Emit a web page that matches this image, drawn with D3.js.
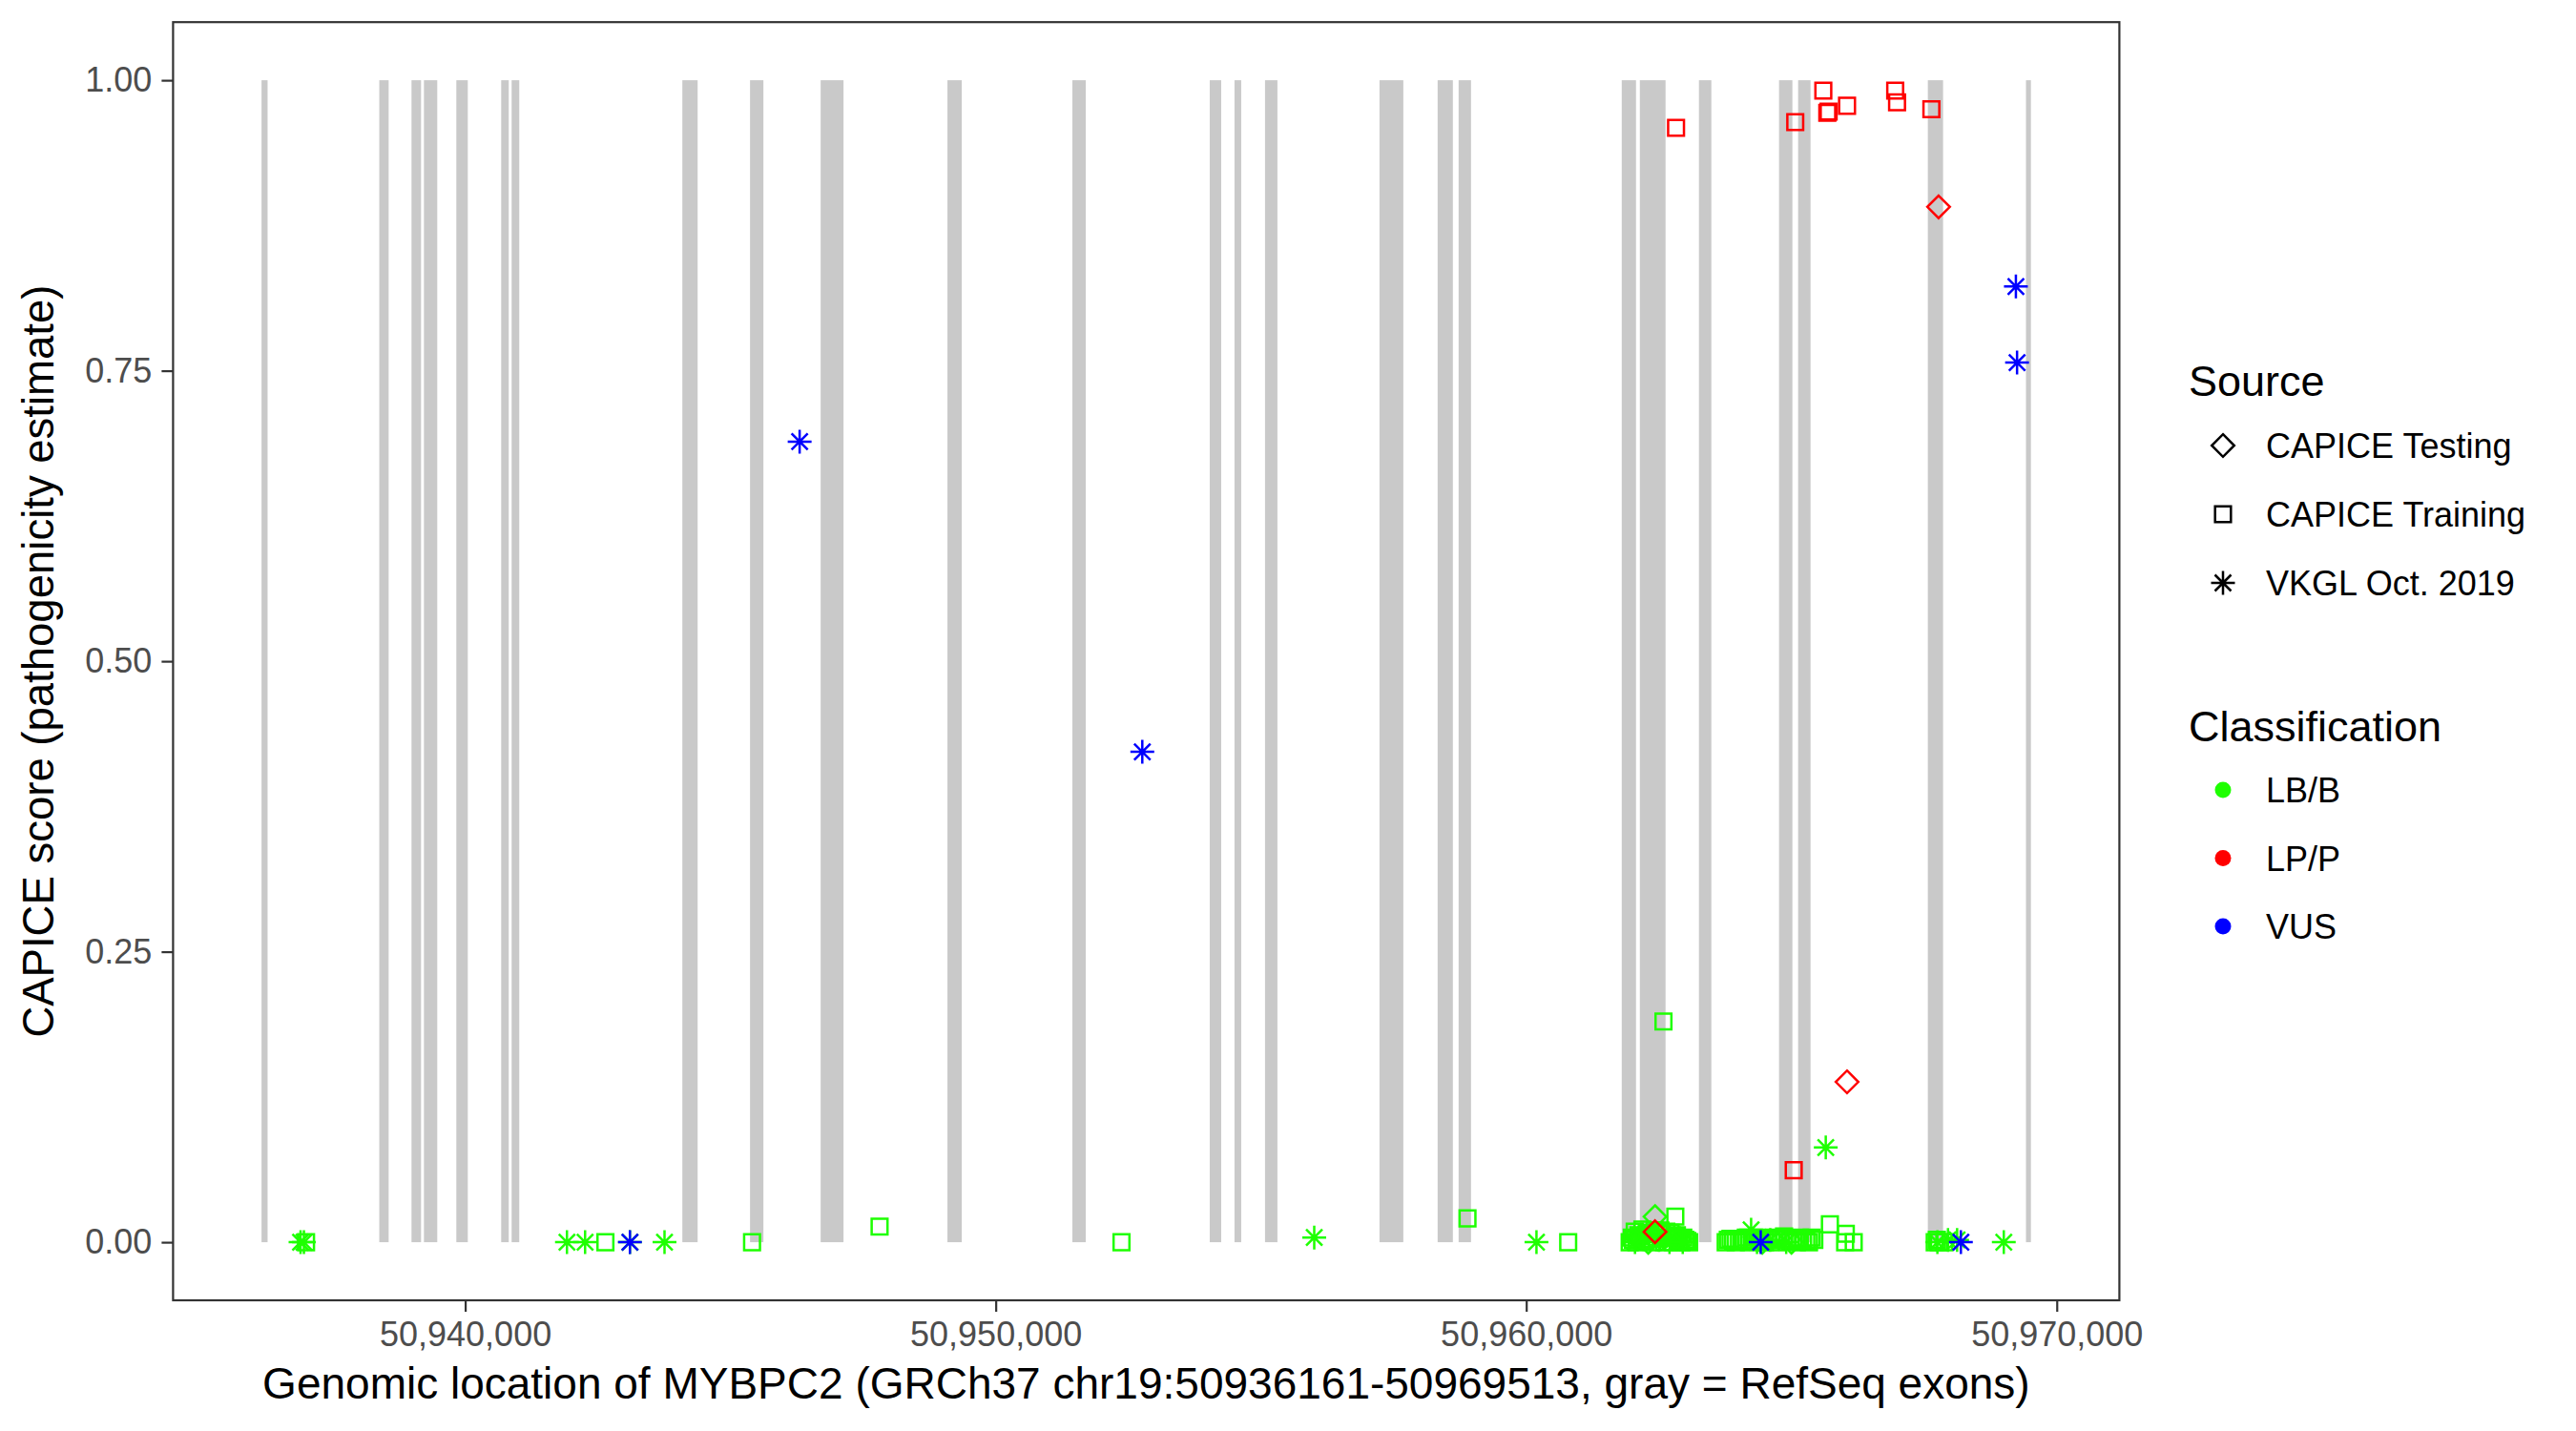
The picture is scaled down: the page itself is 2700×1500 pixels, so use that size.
<!DOCTYPE html>
<html lang="en">
<head>
  <meta charset="UTF-8">
  <title>MYBPC2 CAPICE scores</title>
  <script src="https://d3js.org/d3.v7.min.js"></script>
  <style>
    body {
      margin: 0;
      background: #fff;
    }
    svg {
      display: block;
      font-family: "Liberation Sans", Arial, sans-serif;
    }
    .tick text {
      fill: #4d4d4d;
      font-size: 36px;
      font-family: "Liberation Sans", Arial, sans-serif;
    }
    .tick line {
      stroke: #333;
      stroke-width: 2.2px;
    }
  </style>
</head>
<body>
  <svg width="2700" height="1500"></svg>

  <script>
    // Gene region and RefSeq exons (GRCh37 chr19)
    const geneStart = 50936161, geneEnd = 50969513;
    const exonStarts = [50936161, 50938380, 50938988, 50939222, 50939833, 50940678, 50940875,
      50944093, 50945369, 50946700, 50949090, 50951445, 50954034, 50954501, 50955076,
      50957234, 50958330, 50958725, 50961800, 50962141, 50963255, 50964765, 50965125,
      50967570, 50969420];
    const exonEnds = [50936275, 50938557, 50939168, 50939473, 50940049, 50940821, 50941019,
      50944381, 50945621, 50947131, 50949360, 50951697, 50954250, 50954627, 50955310,
      50957683, 50958617, 50958959, 50962069, 50962626, 50963489, 50965017, 50965359,
      50967857, 50969513];

    // variants: [position, CAPICE score]
    const trainingLBB = [
      [50937000, 0], [50942643, 0], [50945407, 0], [50947811, 0.0134], [50952371, 0],
      [50958893, 0.0205], [50960791, 0], [50962587, 0.19], [50962810, 0.022],
      [50961950, 0], [50961990, 0.004], [50962010, 0.002], [50962045, 0.009], [50962080, 0],
      [50962115, 0.006], [50962150, 0.005], [50962190, 0.011], [50962230, 0.001],
      [50962270, 0.007], [50962310, 0.008], [50962345, 0.003], [50962380, 0],
      [50962420, 0.01], [50962460, 0.003], [50962495, 0.007], [50962530, 0.01],
      [50962565, 0.004], [50962600, 0], [50962640, 0.009], [50962680, 0.004],
      [50962720, 0.008], [50962760, 0], [50962800, 0.005], [50962840, 0.006],
      [50962880, 0.002], [50962920, 0], [50962960, 0.004], [50963000, 0.002],
      [50963035, 0.001], [50963070, 0],
      [50963760, 0], [50963800, 0.002], [50963850, 0.003], [50963900, 0.001], [50963950, 0],
      [50964010, 0.002], [50964080, 0.001], [50964140, 0.004], [50964200, 0],
      [50964270, 0.002], [50964350, 0.004], [50964420, 0.001], [50964500, 0],
      [50964560, 0.003], [50964620, 0.002], [50964680, 0.004], [50964740, 0],
      [50964800, 0.002], [50964860, 0.005], [50964920, 0.003], [50964980, 0.001],
      [50965040, 0.002], [50965100, 0], [50965160, 0.004], [50965220, 0.003],
      [50965280, 0.001], [50965330, 0], [50965380, 0.004], [50965430, 0.002],
      [50965724, 0.0154], [50966024, 0.0073], [50966011, 0], [50966173, 0],
      [50967700, 0], [50967740, 0.002], [50967780, 0], [50967880, 0]
    ];
    const trainingLPP = [
      [50962824, 0.959], [50965071, 0.964], [50965600, 0.991], [50965675, 0.972],
      [50965700, 0.973], [50966047, 0.978], [50966955, 0.991], [50966990, 0.981],
      [50967637, 0.975], [50965042, 0.062]
    ];
    const testingLBB = [
      [50962428, 0.022], [50962100, 0.003], [50962300, 0], [50962650, 0.006],
      [50962900, 0.003], [50964450, 0], [50965000, 0]
    ];
    const testingLPP = [[50967773, 0.891], [50966047, 0.138], [50962428, 0.009]];
    const vkglLBB = [
      [50936896, 0], [50936960, 0], [50941918, 0], [50942260, 0], [50943105, 0], [50943757, 0],
      [50956004, 0.004], [50960193, 0], [50965646, 0.0815], [50964239, 0.0107],
      [50964350, 0], [50964600, 0.002], [50964900, 0], [50962050, 0], [50962200, 0.004],
      [50962500, 0.002], [50962700, 0], [50962950, 0], [50967750, 0], [50967950, 0.002],
      [50968122, 0.002], [50969002, 0]
    ];
    const vkglVUS = [
      [50946304, 0.689], [50952763, 0.422], [50969230, 0.8225], [50969252, 0.757],
      [50943105, 0], [50964420, 0], [50968193, 0]
    ];

    const xTicks = [50940000, 50950000, 50960000, 50970000];
    const yTicks = [0, 0.25, 0.5, 0.75, 1];
    const sourceLabels = ["CAPICE Testing", "CAPICE Training", "VKGL Oct. 2019"];
    const sourceShapes = ["diamond", "square", "asterisk"];
    const classLabels = ["LB/B", "LP/P", "VUS"];
    const classColors = ["#1eff00", "#ff0000", "#0000ff"];

    const series = [
      { data: trainingLBB, shape: "square", color: classColors[0] },
      { data: testingLBB, shape: "diamond", color: classColors[0] },
      { data: vkglLBB, shape: "asterisk", color: classColors[0] },
      { data: trainingLPP, shape: "square", color: classColors[1] },
      { data: testingLPP, shape: "diamond", color: classColors[1] },
      { data: vkglVUS, shape: "asterisk", color: classColors[2] }
    ];

    const svg = d3.select("svg");
    const panel = { left: 181.4, top: 23.2, right: 2221.4, bottom: 1363 };

    // ggplot style 5% expansion
    const pad = (geneEnd - geneStart) * 0.05;
    const x = d3.scaleLinear()
      .domain([geneStart - pad, geneEnd + pad])
      .range([panel.left, panel.right]);
    const y = d3.scaleLinear()
      .domain([-0.05, 1.05])
      .range([panel.bottom, panel.top]);

    function shapePath(shape) {
      if (shape === "square") return "M-8.3,-8.3H8.3V8.3H-8.3Z";
      if (shape === "diamond") return "M0,-11.8L11.8,0L0,11.8L-11.8,0Z";
      return "M-12.5,0H12.5M0,-12.5V12.5M-8.5,-8.5L8.5,8.5M-8.5,8.5L8.5,-8.5";
    }

    // exons
    svg.append("g")
      .selectAll("rect")
      .data(exonStarts.map((s, i) => [s, exonEnds[i]]))
      .join("rect")
      .attr("x", d => x(d[0]))
      .attr("width", d => Math.max(1, x(d[1]) - x(d[0])))
      .attr("y", y(1))
      .attr("height", y(0) - y(1))
      .attr("fill", "#c9c9c9");

    // points
    series.forEach(s => {
      svg.append("g")
        .selectAll("path")
        .data(s.data)
        .join("path")
        .attr("transform", d => `translate(${x(d[0])},${y(d[1])})`)
        .attr("d", shapePath(s.shape))
        .attr("fill", "none")
        .attr("stroke", s.color)
        .attr("stroke-width", 2.5);
    });

    // panel border
    svg.append("rect")
      .attr("x", panel.left)
      .attr("y", panel.top)
      .attr("width", panel.right - panel.left)
      .attr("height", panel.bottom - panel.top)
      .attr("fill", "none")
      .attr("stroke", "#333")
      .attr("stroke-width", 2.2);

    // axes
    svg.append("g")
      .attr("transform", `translate(0,${panel.bottom})`)
      .call(d3.axisBottom(x).tickValues(xTicks).tickFormat(d3.format(","))
        .tickSize(12).tickPadding(10))
      .call(g => g.select(".domain").remove());

    svg.append("g")
      .attr("transform", `translate(${panel.left},0)`)
      .call(d3.axisLeft(y).tickValues(yTicks).tickFormat(d3.format(".2f"))
        .tickSize(12).tickPadding(10))
      .call(g => g.select(".domain").remove());

    // axis titles
    svg.append("text")
      .attr("x", (panel.left + panel.right) / 2)
      .attr("y", 1466)
      .attr("text-anchor", "middle")
      .attr("font-size", 46)
      .text("Genomic location of MYBPC2 (GRCh37 chr19:50936161-50969513, gray = RefSeq exons)");

    svg.append("text")
      .attr("transform", `translate(56,${(panel.top + panel.bottom) / 2}) rotate(-90)`)
      .attr("text-anchor", "middle")
      .attr("font-size", 45.5)
      .text("CAPICE score (pathogenicity estimate)");

    // legends
    const legend = svg.append("g");
    legend.append("text").attr("x", 2294).attr("y", 415).attr("font-size", 45).text("Source");
    sourceLabels.forEach((lab, i) => {
      const cy = 467 + i * 72;
      legend.append("path")
        .attr("transform", `translate(2330,${cy})`)
        .attr("d", shapePath(sourceShapes[i]))
        .attr("fill", "none")
        .attr("stroke", "#000")
        .attr("stroke-width", 2.5);
      legend.append("text").attr("x", 2375).attr("y", cy + 13)
        .attr("font-size", 36).text(lab);
    });

    legend.append("text").attr("x", 2294).attr("y", 777).attr("font-size", 45).text("Classification");
    classLabels.forEach((lab, i) => {
      const cy = 828 + i * 71.5;
      legend.append("circle")
        .attr("cx", 2330).attr("cy", cy).attr("r", 8.5)
        .attr("fill", classColors[i]);
      legend.append("text").attr("x", 2375).attr("y", cy + 13)
        .attr("font-size", 36).text(lab);
    });
  </script>
</body>
</html>
